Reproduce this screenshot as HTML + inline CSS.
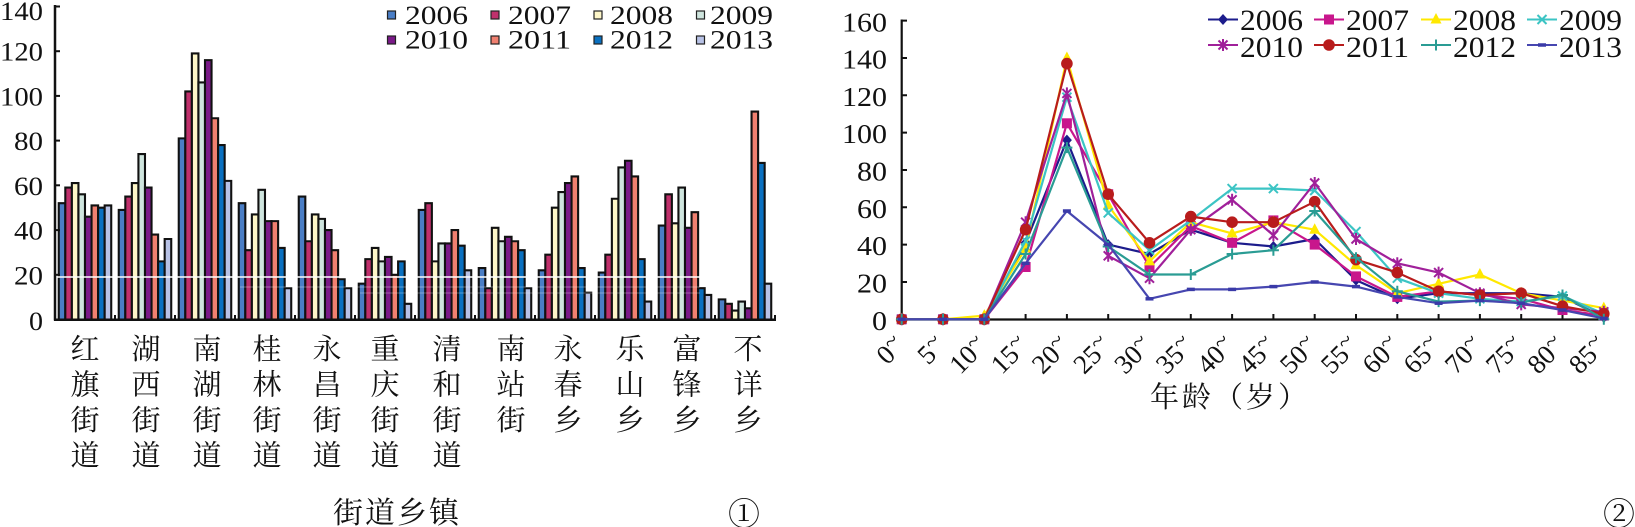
<!DOCTYPE html>
<html><head><meta charset="utf-8">
<style>
html,body{margin:0;padding:0;background:#fff;}
svg{display:block;}
.num{font-family:"Liberation Serif","DejaVu Serif",serif;fill:#111;}
.cjk{font-family:"Liberation Serif","Noto Serif CJK SC","Noto Sans CJK SC",serif;fill:#111;}
</style></head>
<body>
<svg width="1635" height="527" viewBox="0 0 1635 527" xmlns="http://www.w3.org/2000/svg">
<defs>
<marker id="mDia" markerUnits="userSpaceOnUse" markerWidth="20" markerHeight="20" refX="10" refY="10" overflow="visible"><polygon points="10,4.5 15,10 10,15.5 5,10" fill="#1c1c8c"/></marker>
<marker id="mSq" markerUnits="userSpaceOnUse" markerWidth="20" markerHeight="20" refX="10" refY="10" overflow="visible"><rect x="5" y="5" width="10" height="10" fill="#c8168c"/></marker>
<marker id="mTri" markerUnits="userSpaceOnUse" markerWidth="20" markerHeight="20" refX="10" refY="10" overflow="visible"><polygon points="10,3.5 15.5,14 4.5,14" fill="#ffe800"/></marker>
<marker id="mX" markerUnits="userSpaceOnUse" markerWidth="20" markerHeight="20" refX="10" refY="10" overflow="visible"><path d="M5.5,5.5L14.5,14.5M14.5,5.5L5.5,14.5" stroke="#3cc4c4" stroke-width="2"/></marker>
<marker id="mAst" markerUnits="userSpaceOnUse" markerWidth="20" markerHeight="20" refX="10" refY="10" overflow="visible"><path d="M5.5,5.5L14.5,14.5M14.5,5.5L5.5,14.5M10,4L10,16" stroke="#a0209a" stroke-width="2"/></marker>
<marker id="mCir" markerUnits="userSpaceOnUse" markerWidth="20" markerHeight="20" refX="10" refY="10" overflow="visible"><circle cx="10" cy="10" r="5.8" fill="#b81c1c"/></marker>
<marker id="mPlus" markerUnits="userSpaceOnUse" markerWidth="20" markerHeight="20" refX="10" refY="10" overflow="visible"><path d="M4.5,10H15.5M10,4.5V15.5" stroke="#2a9c94" stroke-width="2"/></marker>
<marker id="mDash" markerUnits="userSpaceOnUse" markerWidth="20" markerHeight="20" refX="10" refY="10" overflow="visible"><path d="M6,10H14" stroke="#3a3aa8" stroke-width="3.5"/></marker>
</defs>

<!-- ================= LEFT BAR CHART ================= -->
<g stroke="#111" stroke-width="2.1">
<g transform="translate(58.75,319.5) scale(6.56,-2.236)">
<rect x="0" y="0" width="1" height="52" fill="#4a7ec6" vector-effect="non-scaling-stroke"/>
<rect x="1" y="0" width="1" height="59" fill="#c0306c" vector-effect="non-scaling-stroke"/>
<rect x="2" y="0" width="1" height="61" fill="#fdf6c8" vector-effect="non-scaling-stroke"/>
<rect x="3" y="0" width="1" height="56" fill="#cfe5de" vector-effect="non-scaling-stroke"/>
<rect x="4" y="0" width="1" height="46" fill="#7a1a88" vector-effect="non-scaling-stroke"/>
<rect x="5" y="0" width="1" height="51" fill="#f08070" vector-effect="non-scaling-stroke"/>
<rect x="6" y="0" width="1" height="50" fill="#0a70c0" vector-effect="non-scaling-stroke"/>
<rect x="7" y="0" width="1" height="51" fill="#b8c2e6" vector-effect="non-scaling-stroke"/>
</g>
<g transform="translate(118.75,319.5) scale(6.56,-2.236)">
<rect x="0" y="0" width="1" height="49" fill="#4a7ec6" vector-effect="non-scaling-stroke"/>
<rect x="1" y="0" width="1" height="55" fill="#c0306c" vector-effect="non-scaling-stroke"/>
<rect x="2" y="0" width="1" height="61" fill="#fdf6c8" vector-effect="non-scaling-stroke"/>
<rect x="3" y="0" width="1" height="74" fill="#cfe5de" vector-effect="non-scaling-stroke"/>
<rect x="4" y="0" width="1" height="59" fill="#7a1a88" vector-effect="non-scaling-stroke"/>
<rect x="5" y="0" width="1" height="38" fill="#f08070" vector-effect="non-scaling-stroke"/>
<rect x="6" y="0" width="1" height="26" fill="#0a70c0" vector-effect="non-scaling-stroke"/>
<rect x="7" y="0" width="1" height="36" fill="#b8c2e6" vector-effect="non-scaling-stroke"/>
</g>
<g transform="translate(178.75,319.5) scale(6.56,-2.236)">
<rect x="0" y="0" width="1" height="81" fill="#4a7ec6" vector-effect="non-scaling-stroke"/>
<rect x="1" y="0" width="1" height="102" fill="#c0306c" vector-effect="non-scaling-stroke"/>
<rect x="2" y="0" width="1" height="119" fill="#fdf6c8" vector-effect="non-scaling-stroke"/>
<rect x="3" y="0" width="1" height="106" fill="#cfe5de" vector-effect="non-scaling-stroke"/>
<rect x="4" y="0" width="1" height="116" fill="#7a1a88" vector-effect="non-scaling-stroke"/>
<rect x="5" y="0" width="1" height="90" fill="#f08070" vector-effect="non-scaling-stroke"/>
<rect x="6" y="0" width="1" height="78" fill="#0a70c0" vector-effect="non-scaling-stroke"/>
<rect x="7" y="0" width="1" height="62" fill="#b8c2e6" vector-effect="non-scaling-stroke"/>
</g>
<g transform="translate(238.75,319.5) scale(6.56,-2.236)">
<rect x="0" y="0" width="1" height="52" fill="#4a7ec6" vector-effect="non-scaling-stroke"/>
<rect x="1" y="0" width="1" height="31" fill="#c0306c" vector-effect="non-scaling-stroke"/>
<rect x="2" y="0" width="1" height="47" fill="#fdf6c8" vector-effect="non-scaling-stroke"/>
<rect x="3" y="0" width="1" height="58" fill="#cfe5de" vector-effect="non-scaling-stroke"/>
<rect x="4" y="0" width="1" height="44" fill="#7a1a88" vector-effect="non-scaling-stroke"/>
<rect x="5" y="0" width="1" height="44" fill="#f08070" vector-effect="non-scaling-stroke"/>
<rect x="6" y="0" width="1" height="32" fill="#0a70c0" vector-effect="non-scaling-stroke"/>
<rect x="7" y="0" width="1" height="14" fill="#b8c2e6" vector-effect="non-scaling-stroke"/>
</g>
<g transform="translate(298.75,319.5) scale(6.56,-2.236)">
<rect x="0" y="0" width="1" height="55" fill="#4a7ec6" vector-effect="non-scaling-stroke"/>
<rect x="1" y="0" width="1" height="35" fill="#c0306c" vector-effect="non-scaling-stroke"/>
<rect x="2" y="0" width="1" height="47" fill="#fdf6c8" vector-effect="non-scaling-stroke"/>
<rect x="3" y="0" width="1" height="45" fill="#cfe5de" vector-effect="non-scaling-stroke"/>
<rect x="4" y="0" width="1" height="40" fill="#7a1a88" vector-effect="non-scaling-stroke"/>
<rect x="5" y="0" width="1" height="31" fill="#f08070" vector-effect="non-scaling-stroke"/>
<rect x="6" y="0" width="1" height="18" fill="#0a70c0" vector-effect="non-scaling-stroke"/>
<rect x="7" y="0" width="1" height="14" fill="#b8c2e6" vector-effect="non-scaling-stroke"/>
</g>
<g transform="translate(358.75,319.5) scale(6.56,-2.236)">
<rect x="0" y="0" width="1" height="16" fill="#4a7ec6" vector-effect="non-scaling-stroke"/>
<rect x="1" y="0" width="1" height="27" fill="#c0306c" vector-effect="non-scaling-stroke"/>
<rect x="2" y="0" width="1" height="32" fill="#fdf6c8" vector-effect="non-scaling-stroke"/>
<rect x="3" y="0" width="1" height="26" fill="#cfe5de" vector-effect="non-scaling-stroke"/>
<rect x="4" y="0" width="1" height="28" fill="#7a1a88" vector-effect="non-scaling-stroke"/>
<rect x="5" y="0" width="1" height="20" fill="#f08070" vector-effect="non-scaling-stroke"/>
<rect x="6" y="0" width="1" height="26" fill="#0a70c0" vector-effect="non-scaling-stroke"/>
<rect x="7" y="0" width="1" height="7" fill="#b8c2e6" vector-effect="non-scaling-stroke"/>
</g>
<g transform="translate(418.75,319.5) scale(6.56,-2.236)">
<rect x="0" y="0" width="1" height="49" fill="#4a7ec6" vector-effect="non-scaling-stroke"/>
<rect x="1" y="0" width="1" height="52" fill="#c0306c" vector-effect="non-scaling-stroke"/>
<rect x="2" y="0" width="1" height="26" fill="#fdf6c8" vector-effect="non-scaling-stroke"/>
<rect x="3" y="0" width="1" height="34" fill="#cfe5de" vector-effect="non-scaling-stroke"/>
<rect x="4" y="0" width="1" height="34" fill="#7a1a88" vector-effect="non-scaling-stroke"/>
<rect x="5" y="0" width="1" height="40" fill="#f08070" vector-effect="non-scaling-stroke"/>
<rect x="6" y="0" width="1" height="33" fill="#0a70c0" vector-effect="non-scaling-stroke"/>
<rect x="7" y="0" width="1" height="22" fill="#b8c2e6" vector-effect="non-scaling-stroke"/>
</g>
<g transform="translate(478.75,319.5) scale(6.56,-2.236)">
<rect x="0" y="0" width="1" height="23" fill="#4a7ec6" vector-effect="non-scaling-stroke"/>
<rect x="1" y="0" width="1" height="14" fill="#c0306c" vector-effect="non-scaling-stroke"/>
<rect x="2" y="0" width="1" height="41" fill="#fdf6c8" vector-effect="non-scaling-stroke"/>
<rect x="3" y="0" width="1" height="35" fill="#cfe5de" vector-effect="non-scaling-stroke"/>
<rect x="4" y="0" width="1" height="37" fill="#7a1a88" vector-effect="non-scaling-stroke"/>
<rect x="5" y="0" width="1" height="35" fill="#f08070" vector-effect="non-scaling-stroke"/>
<rect x="6" y="0" width="1" height="31" fill="#0a70c0" vector-effect="non-scaling-stroke"/>
<rect x="7" y="0" width="1" height="14" fill="#b8c2e6" vector-effect="non-scaling-stroke"/>
</g>
<g transform="translate(538.75,319.5) scale(6.56,-2.236)">
<rect x="0" y="0" width="1" height="22" fill="#4a7ec6" vector-effect="non-scaling-stroke"/>
<rect x="1" y="0" width="1" height="29" fill="#c0306c" vector-effect="non-scaling-stroke"/>
<rect x="2" y="0" width="1" height="50" fill="#fdf6c8" vector-effect="non-scaling-stroke"/>
<rect x="3" y="0" width="1" height="57" fill="#cfe5de" vector-effect="non-scaling-stroke"/>
<rect x="4" y="0" width="1" height="61" fill="#7a1a88" vector-effect="non-scaling-stroke"/>
<rect x="5" y="0" width="1" height="64" fill="#f08070" vector-effect="non-scaling-stroke"/>
<rect x="6" y="0" width="1" height="23" fill="#0a70c0" vector-effect="non-scaling-stroke"/>
<rect x="7" y="0" width="1" height="12" fill="#b8c2e6" vector-effect="non-scaling-stroke"/>
</g>
<g transform="translate(598.75,319.5) scale(6.56,-2.236)">
<rect x="0" y="0" width="1" height="21" fill="#4a7ec6" vector-effect="non-scaling-stroke"/>
<rect x="1" y="0" width="1" height="29" fill="#c0306c" vector-effect="non-scaling-stroke"/>
<rect x="2" y="0" width="1" height="54" fill="#fdf6c8" vector-effect="non-scaling-stroke"/>
<rect x="3" y="0" width="1" height="68" fill="#cfe5de" vector-effect="non-scaling-stroke"/>
<rect x="4" y="0" width="1" height="71" fill="#7a1a88" vector-effect="non-scaling-stroke"/>
<rect x="5" y="0" width="1" height="64" fill="#f08070" vector-effect="non-scaling-stroke"/>
<rect x="6" y="0" width="1" height="27" fill="#0a70c0" vector-effect="non-scaling-stroke"/>
<rect x="7" y="0" width="1" height="8" fill="#b8c2e6" vector-effect="non-scaling-stroke"/>
</g>
<g transform="translate(658.75,319.5) scale(6.56,-2.236)">
<rect x="0" y="0" width="1" height="42" fill="#4a7ec6" vector-effect="non-scaling-stroke"/>
<rect x="1" y="0" width="1" height="56" fill="#c0306c" vector-effect="non-scaling-stroke"/>
<rect x="2" y="0" width="1" height="43" fill="#fdf6c8" vector-effect="non-scaling-stroke"/>
<rect x="3" y="0" width="1" height="59" fill="#cfe5de" vector-effect="non-scaling-stroke"/>
<rect x="4" y="0" width="1" height="41" fill="#7a1a88" vector-effect="non-scaling-stroke"/>
<rect x="5" y="0" width="1" height="48" fill="#f08070" vector-effect="non-scaling-stroke"/>
<rect x="6" y="0" width="1" height="14" fill="#0a70c0" vector-effect="non-scaling-stroke"/>
<rect x="7" y="0" width="1" height="11" fill="#b8c2e6" vector-effect="non-scaling-stroke"/>
</g>
<g transform="translate(718.75,319.5) scale(6.56,-2.236)">
<rect x="0" y="0" width="1" height="9" fill="#4a7ec6" vector-effect="non-scaling-stroke"/>
<rect x="1" y="0" width="1" height="7" fill="#c0306c" vector-effect="non-scaling-stroke"/>
<rect x="2" y="0" width="1" height="4" fill="#fdf6c8" vector-effect="non-scaling-stroke"/>
<rect x="3" y="0" width="1" height="8" fill="#cfe5de" vector-effect="non-scaling-stroke"/>
<rect x="4" y="0" width="1" height="5" fill="#7a1a88" vector-effect="non-scaling-stroke"/>
<rect x="5" y="0" width="1" height="93" fill="#f08070" vector-effect="non-scaling-stroke"/>
<rect x="6" y="0" width="1" height="70" fill="#0a70c0" vector-effect="non-scaling-stroke"/>
<rect x="7" y="0" width="1" height="16" fill="#b8c2e6" vector-effect="non-scaling-stroke"/>
</g>
</g>

<!-- scan artifacts -->
<line x1="53" y1="277" x2="700" y2="277" stroke="#fff" stroke-width="1.5"/>
<line x1="240" y1="287" x2="700" y2="287" stroke="#fff" stroke-width="1" opacity="0.35"/>
<line x1="360" y1="293" x2="700" y2="293" stroke="#fff" stroke-width="1" opacity="0.3"/>

<!-- left axes -->
<g stroke="#111" stroke-width="2.5">
<line x1="55" y1="5" x2="55" y2="320.5"/>
<line x1="54" y1="319.7" x2="776" y2="319.7"/>
</g>
<g stroke="#111" stroke-width="2">
<line x1="55" y1="6.5" x2="60" y2="6.5"/>
<line x1="55" y1="51.2" x2="60" y2="51.2"/>
<line x1="55" y1="95.9" x2="60" y2="95.9"/>
<line x1="55" y1="140.6" x2="60" y2="140.6"/>
<line x1="55" y1="185.3" x2="60" y2="185.3"/>
<line x1="55" y1="230.1" x2="60" y2="230.1"/>
<line x1="55" y1="274.8" x2="60" y2="274.8"/>
<path d="M115,315V320M175,315V320M235,315V320M295,315V320M355,315V320M415,315V320M475,315V320M535,315V320M595,315V320M655,315V320M715,315V320M775,315V320"/>
</g>
<g class="num" font-size="26" text-anchor="end">
<text x="43" y="20" textLength="43" lengthAdjust="spacingAndGlyphs">140</text>
<text x="43" y="60.7" textLength="43" lengthAdjust="spacingAndGlyphs">120</text>
<text x="43" y="105.4" textLength="43" lengthAdjust="spacingAndGlyphs">100</text>
<text x="43" y="150.1" textLength="29" lengthAdjust="spacingAndGlyphs">80</text>
<text x="43" y="194.8" textLength="29" lengthAdjust="spacingAndGlyphs">60</text>
<text x="43" y="239.6" textLength="29" lengthAdjust="spacingAndGlyphs">40</text>
<text x="43" y="284.3" textLength="29" lengthAdjust="spacingAndGlyphs">20</text>
<text x="43" y="330" textLength="14" lengthAdjust="spacingAndGlyphs">0</text>
</g>

<!-- left legend -->
<g stroke="#222" stroke-width="1.2">
<rect x="387.5" y="11" width="8" height="8" fill="#4a7ec6"/>
<rect x="491" y="11" width="8" height="8" fill="#c0306c"/>
<rect x="594" y="11" width="8" height="8" fill="#fdf6c8"/>
<rect x="696.5" y="11" width="8" height="8" fill="#cfe5de"/>
<rect x="387.5" y="36" width="8" height="8" fill="#7a1a88"/>
<rect x="491" y="36" width="8" height="8" fill="#f08070"/>
<rect x="594" y="36" width="8" height="8" fill="#0a70c0"/>
<rect x="696.5" y="36" width="8" height="8" fill="#b8c2e6"/>
</g>
<g class="num" font-size="26">
<text x="405" y="24" textLength="63" lengthAdjust="spacingAndGlyphs">2006</text>
<text x="508" y="24" textLength="63" lengthAdjust="spacingAndGlyphs">2007</text>
<text x="610" y="24" textLength="63" lengthAdjust="spacingAndGlyphs">2008</text>
<text x="710" y="24" textLength="63" lengthAdjust="spacingAndGlyphs">2009</text>
<text x="405" y="48.5" textLength="63" lengthAdjust="spacingAndGlyphs">2010</text>
<text x="508" y="48.5" textLength="63" lengthAdjust="spacingAndGlyphs">2011</text>
<text x="610" y="48.5" textLength="63" lengthAdjust="spacingAndGlyphs">2012</text>
<text x="710" y="48.5" textLength="63" lengthAdjust="spacingAndGlyphs">2013</text>
</g>

<!-- left category labels -->
<g class="cjk" font-size="29" text-anchor="middle">
<text x="85" y="359"><tspan x="85" y="359">红</tspan><tspan x="85" y="394.5">旗</tspan><tspan x="85" y="430">街</tspan><tspan x="85" y="465.5">道</tspan></text>
<text x="146" y="359"><tspan x="146" y="359">湖</tspan><tspan x="146" y="394.5">西</tspan><tspan x="146" y="430">街</tspan><tspan x="146" y="465.5">道</tspan></text>
<text x="207" y="359"><tspan x="207" y="359">南</tspan><tspan x="207" y="394.5">湖</tspan><tspan x="207" y="430">街</tspan><tspan x="207" y="465.5">道</tspan></text>
<text x="267" y="359"><tspan x="267" y="359">桂</tspan><tspan x="267" y="394.5">林</tspan><tspan x="267" y="430">街</tspan><tspan x="267" y="465.5">道</tspan></text>
<text x="327" y="359"><tspan x="327" y="359">永</tspan><tspan x="327" y="394.5">昌</tspan><tspan x="327" y="430">街</tspan><tspan x="327" y="465.5">道</tspan></text>
<text x="385" y="359"><tspan x="385" y="359">重</tspan><tspan x="385" y="394.5">庆</tspan><tspan x="385" y="430">街</tspan><tspan x="385" y="465.5">道</tspan></text>
<text x="447" y="359"><tspan x="447" y="359">清</tspan><tspan x="447" y="394.5">和</tspan><tspan x="447" y="430">街</tspan><tspan x="447" y="465.5">道</tspan></text>
<text x="511" y="359"><tspan x="511" y="359">南</tspan><tspan x="511" y="394.5">站</tspan><tspan x="511" y="430">街</tspan></text>
<text x="568" y="359"><tspan x="568" y="359">永</tspan><tspan x="568" y="394.5">春</tspan><tspan x="568" y="430">乡</tspan></text>
<text x="630" y="359"><tspan x="630" y="359">乐</tspan><tspan x="630" y="394.5">山</tspan><tspan x="630" y="430">乡</tspan></text>
<text x="687" y="359"><tspan x="687" y="359">富</tspan><tspan x="687" y="394.5">锋</tspan><tspan x="687" y="430">乡</tspan></text>
<text x="748" y="359"><tspan x="748" y="359">不</tspan><tspan x="748" y="394.5">详</tspan><tspan x="748" y="430">乡</tspan></text>
</g>
<text class="cjk" x="333" y="523" font-size="30" letter-spacing="2">街道乡镇</text>
<text class="cjk" x="744" y="525" font-size="32" text-anchor="middle" font-family="Noto Serif CJK SC, Noto Sans CJK SC, serif">①</text>

<!-- ================= RIGHT LINE CHART ================= -->
<line x1="857" y1="277" x2="1023" y2="277" stroke="#fff" stroke-width="1.2" opacity="0.8"/>
<g stroke="#111" stroke-width="2.2">
<line x1="901.7" y1="19.5" x2="901.7" y2="320.5"/>
<line x1="900.6" y1="319.5" x2="1607" y2="319.5"/>
</g>
<g stroke="#111" stroke-width="2">
<path d="M901.7,20.6H907M901.7,58H907M901.7,95.3H907M901.7,132.6H907M901.7,170H907M901.7,207.3H907M901.7,244.6H907M901.7,282H907"/>
<path d="M943,314V319M984.3,314V319M1025.6,314V319M1066.9,314V319M1108.2,314V319M1149.5,314V319M1190.8,314V319M1232.1,314V319M1273.4,314V319M1314.7,314V319M1356,314V319M1397.3,314V319M1438.6,314V319M1479.9,314V319M1521.2,314V319M1562.5,314V319M1603.8,314V319"/>
</g>
<g class="num" font-size="27" text-anchor="end">
<text x="887" y="31.5" textLength="45" lengthAdjust="spacingAndGlyphs">160</text>
<text x="887" y="68.5" textLength="45" lengthAdjust="spacingAndGlyphs">140</text>
<text x="887" y="105.8" textLength="45" lengthAdjust="spacingAndGlyphs">120</text>
<text x="887" y="143.1" textLength="45" lengthAdjust="spacingAndGlyphs">100</text>
<text x="887" y="180.5" textLength="30" lengthAdjust="spacingAndGlyphs">80</text>
<text x="887" y="217.8" textLength="30" lengthAdjust="spacingAndGlyphs">60</text>
<text x="887" y="255.1" textLength="30" lengthAdjust="spacingAndGlyphs">40</text>
<text x="887" y="292.5" textLength="30" lengthAdjust="spacingAndGlyphs">20</text>
<text x="887" y="329.8" textLength="15" lengthAdjust="spacingAndGlyphs">0</text>
</g>

<!-- series -->
<g fill="none" stroke-width="2.2" stroke-linejoin="round">
<polyline stroke="#1c1c8c" marker-start="url(#mDia)" marker-mid="url(#mDia)" marker-end="url(#mDia)" points="901.7,319.3 943,319.3 984.3,319.3 1025.6,242.8 1066.9,140.1 1108.2,244.6 1149.5,254.0 1190.8,229.7 1232.1,242.8 1273.4,246.5 1314.7,239.0 1356,280.1 1397.3,298.8 1438.6,293.2 1479.9,293.2 1521.2,293.2 1562.5,296.9 1603.8,317.4"/>
<polyline stroke="#c8168c" marker-start="url(#mSq)" marker-mid="url(#mSq)" marker-end="url(#mSq)" points="901.7,319.3 943,319.3 984.3,319.3 1025.6,267.0 1066.9,123.3 1108.2,194.2 1149.5,267.0 1190.8,226.0 1232.1,242.8 1273.4,220.4 1314.7,244.6 1356,276.4 1397.3,296.9 1438.6,291.3 1479.9,295.0 1521.2,298.8 1562.5,310.0 1603.8,315.6"/>
<polyline stroke="#ffe800" marker-start="url(#mTri)" marker-mid="url(#mTri)" marker-end="url(#mTri)" points="901.7,319.3 943,319.3 984.3,315.6 1025.6,248.4 1066.9,58.0 1108.2,205.4 1149.5,261.4 1190.8,222.2 1232.1,233.4 1273.4,222.2 1314.7,229.7 1356,265.2 1397.3,293.2 1438.6,283.8 1479.9,274.5 1521.2,293.2 1562.5,300.6 1603.8,308.1"/>
<polyline stroke="#3cc4c4" marker-start="url(#mX)" marker-mid="url(#mX)" marker-end="url(#mX)" points="901.7,319.3 943,319.3 984.3,319.3 1025.6,240.9 1066.9,97.2 1108.2,212.9 1149.5,250.2 1190.8,220.4 1232.1,188.6 1273.4,188.6 1314.7,190.5 1356,231.6 1397.3,278.2 1438.6,293.2 1479.9,298.8 1521.2,301.6 1562.5,296.0 1603.8,313.7"/>
<polyline stroke="#a0209a" marker-start="url(#mAst)" marker-mid="url(#mAst)" marker-end="url(#mAst)" points="901.7,319.3 943,319.3 984.3,319.3 1025.6,222.2 1066.9,93.4 1108.2,255.8 1149.5,278.2 1190.8,229.7 1232.1,199.8 1273.4,235.3 1314.7,183.0 1356,239.0 1397.3,263.3 1438.6,272.6 1479.9,293.2 1521.2,304.4 1562.5,308.1 1603.8,311.8"/>
<polyline stroke="#b81c1c" marker-start="url(#mCir)" marker-mid="url(#mCir)" marker-end="url(#mCir)" points="901.7,319.3 943,319.3 984.3,319.3 1025.6,229.7 1066.9,63.6 1108.2,194.2 1149.5,242.8 1190.8,216.6 1232.1,222.2 1273.4,222.2 1314.7,201.7 1356,259.6 1397.3,272.6 1438.6,291.3 1479.9,295.0 1521.2,293.2 1562.5,306.2 1603.8,313.7"/>
<polyline stroke="#2a9c94" marker-start="url(#mPlus)" marker-mid="url(#mPlus)" marker-end="url(#mPlus)" points="901.7,319.3 943,319.3 984.3,319.3 1025.6,254.0 1066.9,147.6 1108.2,246.5 1149.5,274.5 1190.8,274.5 1232.1,254.0 1273.4,250.2 1314.7,211.0 1356,257.7 1397.3,291.3 1438.6,301.6 1479.9,300.6 1521.2,302.5 1562.5,295.0 1603.8,319.3"/>
<polyline stroke="#4646b0" marker-start="url(#mDash)" marker-mid="url(#mDash)" marker-end="url(#mDash)" points="901.7,319.3 943,319.3 984.3,319.3 1025.6,263.3 1066.9,211.0 1108.2,244.6 1149.5,298.8 1190.8,289.4 1232.1,289.4 1273.4,286.6 1314.7,282.0 1356,286.6 1397.3,296.9 1438.6,303.2 1479.9,300.6 1521.2,303.2 1562.5,310.0 1603.8,318.4"/>
</g>

<!-- right legend -->
<g fill="none" stroke-width="2">
<path stroke="#1c1c8c" marker-mid="url(#mDia)" d="M1208,19.5L1223,19.5L1238,19.5"/>
<path stroke="#c8168c" marker-mid="url(#mSq)" d="M1314,19.5L1329,19.5L1344,19.5"/>
<path stroke="#ffe800" marker-mid="url(#mTri)" d="M1421,19.5L1436,19.5L1451,19.5"/>
<path stroke="#3cc4c4" marker-mid="url(#mX)" d="M1527,19.5L1542,19.5L1557,19.5"/>
<path stroke="#a0209a" marker-mid="url(#mAst)" d="M1208,45L1223,45L1238,45"/>
<path stroke="#b81c1c" marker-mid="url(#mCir)" d="M1314,45L1329,45L1344,45"/>
<path stroke="#2a9c94" marker-mid="url(#mPlus)" d="M1421,45L1436,45L1451,45"/>
<path stroke="#4646b0" marker-mid="url(#mDash)" d="M1527,45L1542,45L1557,45"/>
</g>
<g class="num" font-size="30">
<text x="1240" y="30" textLength="63" lengthAdjust="spacingAndGlyphs">2006</text>
<text x="1346" y="30" textLength="63" lengthAdjust="spacingAndGlyphs">2007</text>
<text x="1453" y="30" textLength="63" lengthAdjust="spacingAndGlyphs">2008</text>
<text x="1559" y="30" textLength="63" lengthAdjust="spacingAndGlyphs">2009</text>
<text x="1240" y="57" textLength="63" lengthAdjust="spacingAndGlyphs">2010</text>
<text x="1346" y="57" textLength="63" lengthAdjust="spacingAndGlyphs">2011</text>
<text x="1453" y="57" textLength="63" lengthAdjust="spacingAndGlyphs">2012</text>
<text x="1559" y="57" textLength="63" lengthAdjust="spacingAndGlyphs">2013</text>
</g>

<!-- rotated x labels -->
<g class="num" font-size="27" text-anchor="end">
<text transform="translate(906,347) rotate(-45)">0<tspan font-size="24" dy="-7">~</tspan></text>
<text transform="translate(947,347) rotate(-45)">5<tspan font-size="24" dy="-7">~</tspan></text>
<text transform="translate(988.5,347) rotate(-45)">10<tspan font-size="24" dy="-7">~</tspan></text>
<text transform="translate(1030,347) rotate(-45)">15<tspan font-size="24" dy="-7">~</tspan></text>
<text transform="translate(1071,347) rotate(-45)">20<tspan font-size="24" dy="-7">~</tspan></text>
<text transform="translate(1112.5,347) rotate(-45)">25<tspan font-size="24" dy="-7">~</tspan></text>
<text transform="translate(1153.5,347) rotate(-45)">30<tspan font-size="24" dy="-7">~</tspan></text>
<text transform="translate(1195,347) rotate(-45)">35<tspan font-size="24" dy="-7">~</tspan></text>
<text transform="translate(1236,347) rotate(-45)">40<tspan font-size="24" dy="-7">~</tspan></text>
<text transform="translate(1277.5,347) rotate(-45)">45<tspan font-size="24" dy="-7">~</tspan></text>
<text transform="translate(1319,347) rotate(-45)">50<tspan font-size="24" dy="-7">~</tspan></text>
<text transform="translate(1360,347) rotate(-45)">55<tspan font-size="24" dy="-7">~</tspan></text>
<text transform="translate(1401.5,347) rotate(-45)">60<tspan font-size="24" dy="-7">~</tspan></text>
<text transform="translate(1442.5,347) rotate(-45)">65<tspan font-size="24" dy="-7">~</tspan></text>
<text transform="translate(1484,347) rotate(-45)">70<tspan font-size="24" dy="-7">~</tspan></text>
<text transform="translate(1525,347) rotate(-45)">75<tspan font-size="24" dy="-7">~</tspan></text>
<text transform="translate(1566.5,347) rotate(-45)">80<tspan font-size="24" dy="-7">~</tspan></text>
<text transform="translate(1608,347) rotate(-45)">85<tspan font-size="24" dy="-7">~</tspan></text>
</g>
<text class="cjk" x="1150" y="407" font-size="29" letter-spacing="3">年龄（岁）</text>
<text class="cjk" x="1619" y="525" font-size="32" text-anchor="middle" font-family="Noto Serif CJK SC, Noto Sans CJK SC, serif">②</text>
</svg>
</body></html>
